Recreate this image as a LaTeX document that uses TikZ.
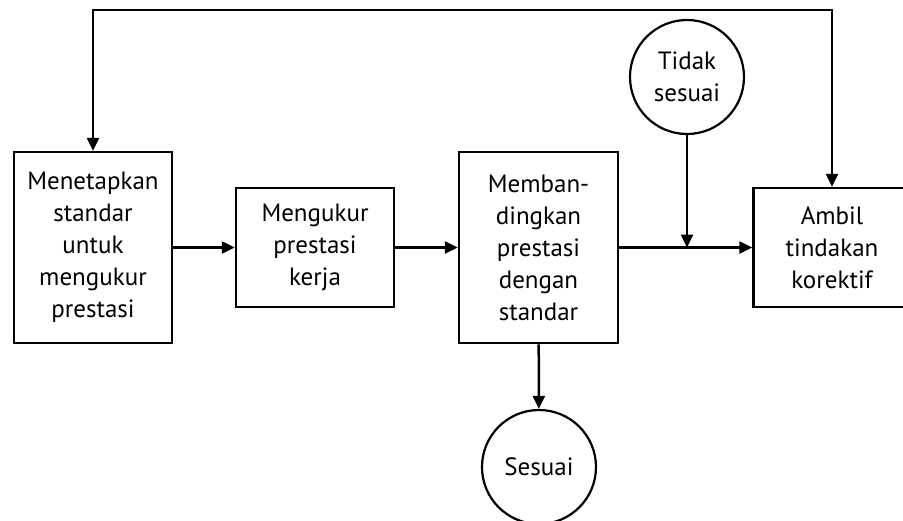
\documentclass[tikz,border=0pt]{standalone}
\usepackage{fontspec}
\setmainfont{PT Sans}
\usetikzlibrary{arrows.meta}
\begin{document}
\begin{tikzpicture}[x=1pt,y=-1pt,
  every node/.style={font=\fontsize{25}{32}\selectfont, align=center, inner sep=0pt},
  box/.style={draw, line width=2.5pt, rectangle},
  bubble/.style={draw, line width=2.2pt, circle, minimum size=114pt},
  conn/.style={line width=2.5pt, -{Triangle[length=13pt,width=12pt]}},
  both/.style={line width=2.5pt, {Triangle[length=13pt,width=12pt]}-{Triangle[length=13pt,width=12pt]}}]
\useasboundingbox (0,0) rectangle (903,520);
\node[box, minimum width=158pt, minimum height=191pt] (b1) at (93,247.5) {Menetapkan\\standar\\untuk\\mengukur\\prestasi};
\node[box, minimum width=158pt, minimum height=119pt] (b2) at (315,247.5) {Mengukur\\prestasi\\kerja};
\node[box, minimum width=159pt, minimum height=191pt] (b3) at (538.5,247.5) {Memban-\\dingkan\\prestasi\\dengan\\standar};
\node[box, minimum width=157pt, minimum height=119pt] (b4) at (832,247.5) {Ambil\\tindakan\\korektif};
\node[bubble] (ts) at (687,77) {Tidak\\sesuai};
\node[bubble] (s) at (539,467) {Sesuai};
\coordinate (j) at (687,247.5);
\coordinate (top) at (93,10);
\draw[conn] (b1) -- (b2);
\draw[conn] (b2) -- (b3);
\draw[conn] (b3) -- (b4);
\draw[conn] (ts) -- (j);
\draw[conn] (b3) -- (s);
\draw[both] (b1.north) |- (top) -| (b4.north);
\end{tikzpicture}
\end{document}
